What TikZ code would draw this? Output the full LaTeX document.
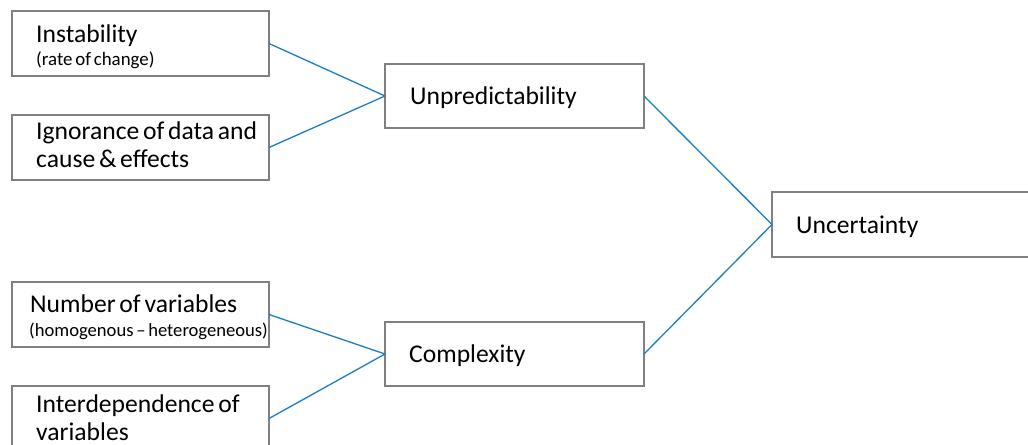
\documentclass[tikz,border=0pt]{standalone}
\usepackage{fontspec}
\setmainfont{Carlito}[WordSpace=0.65]
\definecolor{boxgray}{RGB}{128,128,128}
\definecolor{linkblue}{RGB}{28,126,196}
\begin{document}
\begin{tikzpicture}[x=1bp,y=-1bp,
  box/.style={draw=boxgray, line width=1.4bp, rectangle, inner sep=0pt, outer sep=0pt,
    anchor=north west, minimum width=257bp, minimum height=65bp},
  mid/.style={box, minimum width=259bp, minimum height=64bp},
  lbl/.style={anchor=base west, inner sep=0pt, font=\fontsize{25.6bp}{28bp}\selectfont},
  sub/.style={anchor=base west, inner sep=0pt, font=\fontsize{18.9bp}{22bp}\selectfont},
  link/.style={draw=linkblue, line width=1.3bp}]
\useasboundingbox (0,0) rectangle (1028,445);
\clip (0,0) rectangle (1028,445);
\fill[white] (0,0) rectangle (1028,445);

% boxes
\node[box] (inst) at (12,11) {};
\node[box] (ign) at (12,115) {};
\node[box] (num) at (12,282) {};
\node[box] (inter) at (12,386) {};
\node[mid] (unpred) at (385,64) {};
\node[mid] (compl) at (385,322) {};
\node[box] (unc) at (772,192) {};

% labels
\node[lbl] (instA) at (36,43) {Instability};
\node[sub] (instB) at (36,66) {(rate of change)};
\node[lbl] (ignA) at (36,140) {Ignorance of data and};
\node[lbl] (ignB) at (36,168) {cause \& effects};
\node[lbl] (numA) at (30,313) {Number of variables};
\node[sub,font=\fontsize{18.6bp}{22bp}\selectfont] (numB) at (29,337) {(homogenous -- heterogeneous)};
\node[lbl] (interA) at (36,412) {Interdependence of};
\node[lbl] (interB) at (36,440) {variables};
\node[lbl] (unpredT) at (410,105) {Unpredictability};
\node[lbl] (complT) at (409,363) {Complexity};
\node[lbl] (uncT) at (796,234) {Uncertainty};

% connectors
\draw[link] (inst.east) -- (unpred.west);
\draw[link] (ign.east) -- (unpred.west);
\draw[link] (num.east) -- (compl.west);
\draw[link] (inter.east) -- (compl.west);
\draw[link] (unpred.east) -- (unc.west);
\draw[link] (compl.east) -- (unc.west);
\end{tikzpicture}
\end{document}
